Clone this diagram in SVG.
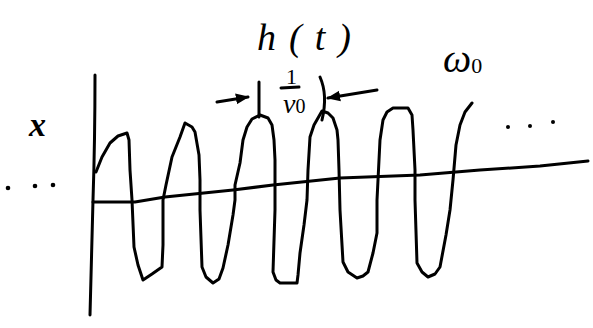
<svg xmlns="http://www.w3.org/2000/svg" width="593" height="328" viewBox="0 0 593 328">
<style>
.ink{fill:none;stroke:#000;stroke-width:3;stroke-linecap:round;stroke-linejoin:round}
.lbl{font-family:"Liberation Serif","DejaVu Serif",serif;font-style:italic;fill:#000}
.dot{fill:#000}
</style>
<defs>
<marker id="ah" viewBox="0 0 10 10" refX="9" refY="5" markerWidth="4.5" markerHeight="4.5" orient="auto" markerUnits="strokeWidth">
<path d="M0,1 L10,5 L0,9 Z" fill="#000"/>
</marker>
</defs>
<rect width="593" height="328" fill="#fff"/>
<g id="axes">
<path class="ink" d="M95,75 Q95,140 93,200 L90,315"/>
<path class="ink" d="M93,202 L135,202 L165,197 L233,190 L273,185 L340,178 L420,175 L480,170 L540,166 L588,161"/>
</g>
<g id="signal">
<path class="ink" d="M96,172 L102,157 L110,143 L118,136 L127,133 L129,140 L130,170 L132,200 L134,247 L138,265 L143,280 L152,274 L162,267 L163,245 L163,200 L166,185 L172,157 L180,137 L185,123 L192,127 L195,132 L199,155 L200,180 L200,210 L202,267 L206,277 L213,283 L219,279 L223,268 L228,245 L233,215 L235,200 L235,185 L240,163 L243,140 L247,127 L252,119 L260,115 L268,118 L272,125 L274,140 L275,160 L275,210 L273,272 L276,280 L280,283 L297,283 L298,275 L300,253 L304,225 L307,200 L308,170 L310,137 L314,125 L318,118 L322,111 L328,113 L333,118 L337,130 L338,140 L339,170 L340,210 L343,262 L348,272 L357,278 L363,276 L368,272 L373,253 L377,233 L377,200 L378,180 L380,140 L383,120 L387,112 L393,108 L408,108 L412,115 L413,130 L415,170 L415,200 L417,263 L422,272 L428,277 L435,274 L440,267 L446,235 L450,210 L453,180 L456,145 L460,125 L465,112 L472,103"/>
</g>
<g id="period-marker">
<path class="ink" d="M259,82 L259,117"/>
<path class="ink" d="M320,77 Q328,95 322,120"/>
<g id="connectors">
<path class="ink" d="M217,102 L248,97" marker-end="url(#ah)"/>
<path class="ink" d="M377,90 L328,98" marker-end="url(#ah)"/>
</g>
<text x="286" y="84" font-size="22" font-family="Liberation Serif, serif" fill="#000">1</text>
<path class="ink" stroke-width="2.5" d="M281,88 L299,87"/>
<text class="lbl" x="283" y="113" font-size="28">ν<tspan font-size="20" font-style="normal" dy="0">0</tspan></text>
</g>
<g id="title">
<text class="lbl" x="257" y="50" font-size="38" textLength="94" lengthAdjust="spacing">h(t)</text>
</g>
<g id="omega">
<text class="lbl" x="443" y="72" font-size="40">ω<tspan font-size="22" font-style="normal" dy="1">0</tspan></text>
</g>
<g id="x-label">
<text class="lbl" x="29" y="136" font-size="34" font-weight="bold">x</text>
</g>
<g id="dots-left">
<circle class="dot" cx="8" cy="188" r="2.3"/>
<circle class="dot" cx="35" cy="186" r="2.3"/>
<circle class="dot" cx="53" cy="185" r="2.3"/>
</g>
<g id="dots-right">
<circle class="dot" cx="508" cy="127" r="2"/>
<circle class="dot" cx="530" cy="126" r="2"/>
<circle class="dot" cx="553" cy="122" r="2"/>
</g>
</svg>
